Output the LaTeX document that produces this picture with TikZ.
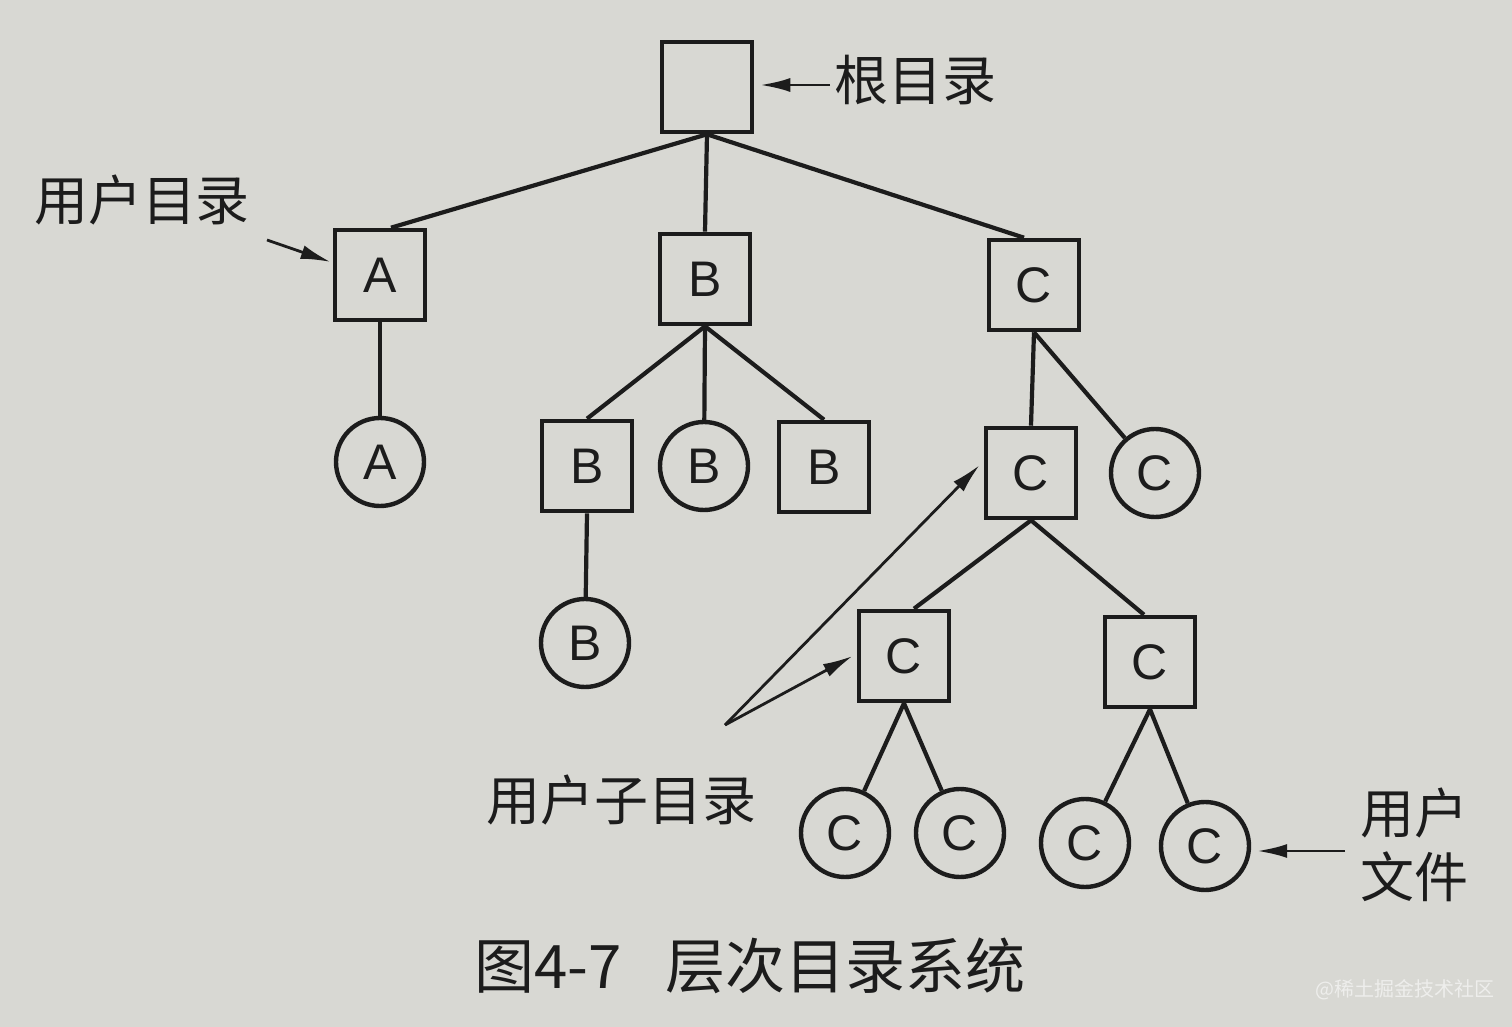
\documentclass[tikz,border=0pt]{standalone}
\usepackage{fontspec}
\setmainfont{Liberation Sans}
\newfontfamily\cjk{Noto Sans CJK SC}
\usetikzlibrary{arrows.meta}
\definecolor{paper}{RGB}{216,216,211}
\definecolor{ink}{RGB}{28,28,28}
\definecolor{wm}{RGB}{238,238,236}
\begin{document}
\begin{tikzpicture}[x=0.5pt,y=-0.5pt,
  dirbox/.style={draw=ink,line width=2.3pt,minimum size=45pt,inner sep=0pt,
    font=\fontsize{25}{27}\selectfont,text=ink},
  filecirc/.style={draw=ink,line width=2.2pt,circle,minimum size=44pt,inner sep=0pt,
    font=\fontsize{25}{27}\selectfont,text=ink},
  link/.style={draw=ink,line width=2.1pt},
  pointer/.style={draw=ink,line width=1.4pt,-{Latex[length=15pt,width=7pt]}},
  lbl/.style={font=\cjk\fontsize{27}{32}\selectfont,text=ink,inner sep=0pt,align=center}]
\fill[paper] (0,0) rectangle (1512,1027);
\useasboundingbox (0,0) rectangle (1512,1027);

% directories
\node[dirbox] (root) at (707,87) {};
\node[dirbox] (A) at (380,275) {A};
\node[dirbox] (B) at (705,279) {B};
\node[dirbox] (C) at (1034,285) {C};
\node[dirbox] (B1) at (587,466) {B};
\node[dirbox] (B3) at (824,467) {B};
\node[dirbox] (C1) at (1031,473) {C};
\node[dirbox] (C11) at (904,656) {C};
\node[dirbox] (C12) at (1150,662) {C};

% files
\node[filecirc] (fA) at (380,462) {A};
\node[filecirc] (fB2) at (704,466) {B};
\node[filecirc] (fB1) at (585,643) {B};
\node[filecirc] (fC) at (1155,473) {C};
\node[filecirc] (f1) at (845,833) {C};
\node[filecirc] (f2) at (960,833) {C};
\node[filecirc] (f3) at (1085,843) {C};
\node[filecirc] (f4) at (1205,846) {C};

% tree edges
\draw[link] (root.south) -- ([xshift=5.5pt]A.north);
\draw[link] (root.south) -- (B.north);
\draw[link] (root.south) -- ([xshift=-5pt]C.north);
\draw[link] (A.south) -- (fA);
\draw[link] (B.south) -- (B1.north);
\draw[link] (B.south) -- (fB2);
\draw[link] (B.south) -- (B3.north);
\draw[link] (B1.south) -- (fB1);
\draw[link] (C.south) -- (C1.north);
\draw[link] (C.south) -- (fC);
\draw[link] (C1.south) -- ([xshift=5pt]C11.north);
\draw[link] (C1.south) -- ([xshift=-3pt]C12.north);
\draw[link] (C11.south) -- (f1);
\draw[link] (C11.south) -- (f2);
\draw[link] (C12.south) -- (f3);
\draw[link] (C12.south) -- (f4);

% labels
\node[lbl] (lroot) at (915,80) {根目录};
\node[lbl] (luser) at (142,200) {用户目录};
\node[lbl] (lsub) at (621,800) {用户子目录};
\node[lbl] (lfile) at (1414,845) {用户\\文件};
\node[font=\cjk\fontsize{30}{34}\selectfont,text=ink,inner sep=0pt] (cap) at (750,966) {图4-7\hspace{22pt}层次目录系统};
\node[font=\cjk\fontsize{10}{12}\selectfont,text=wm,inner sep=0pt] (wmark) at (1405,990) {@稀土掘金技术社区};

% pointers
\coordinate (proot) at (830,85);
\coordinate (puser) at (267,240);
\coordinate (psub) at (725,725);
\coordinate (pfile) at (1345,851);
\draw[pointer] (proot) -- ([xshift=3pt]root.east |- proot);
\draw[pointer] (puser) -- ([xshift=-1pt]A.west |- 0,262);
\draw[pointer] (psub) -- ([xshift=-2pt,yshift=4pt]C1.west);
\draw[pointer] (psub) -- ([xshift=-2pt]C11.west);
\draw[pointer] (pfile) -- ([xshift=3pt]f4.east |- pfile);
\end{tikzpicture}
\end{document}
